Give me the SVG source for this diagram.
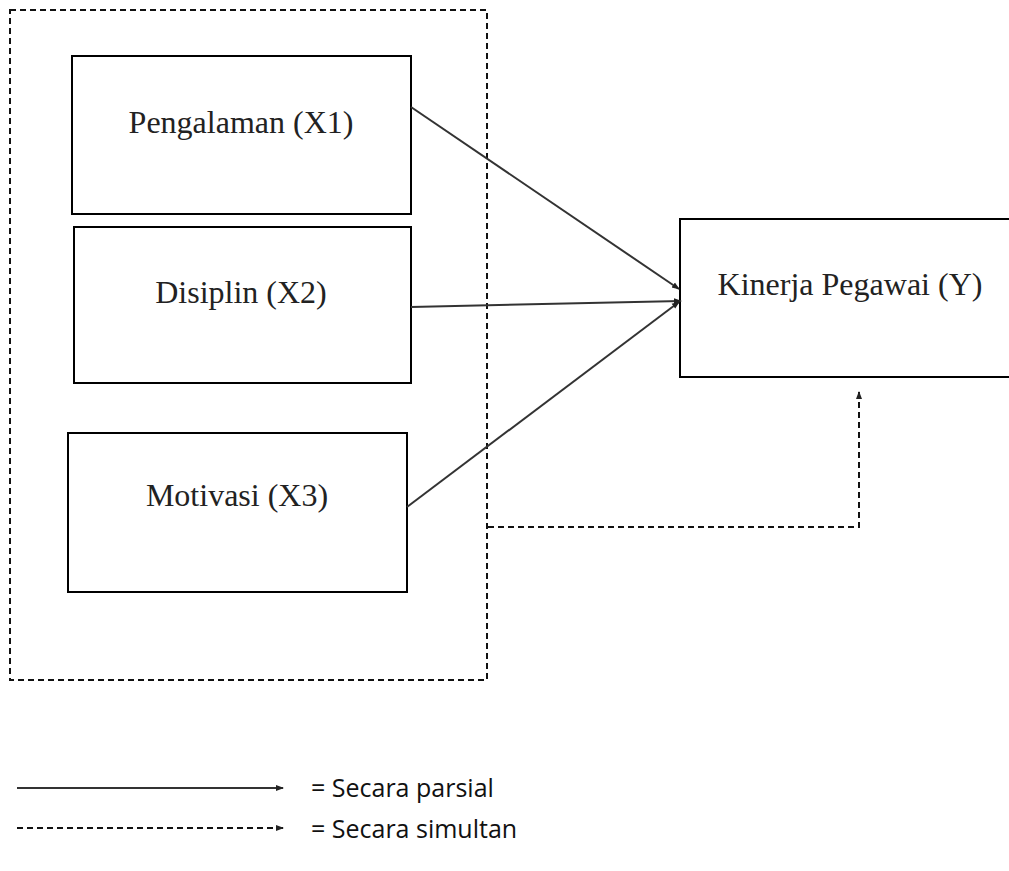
<svg xmlns="http://www.w3.org/2000/svg" width="1009" height="871" viewBox="0 0 1009 871">
<style>
.box{fill:#fff;stroke:#000;stroke-width:2}
.lbl{font-family:"Liberation Serif",serif;font-size:32px;fill:#222;text-anchor:middle}
.leg{font-family:"Open Sans","Liberation Sans",sans-serif;font-size:25px;fill:#111}
.solid{stroke:#333;stroke-width:2;fill:none}
.dash{stroke:#111;stroke-width:2;fill:none;stroke-dasharray:6,4}
</style>
<defs>
<marker id="ah" markerWidth="8" markerHeight="8" refX="7" refY="4" orient="auto" markerUnits="userSpaceOnUse">
<path d="M0,1 L8,4 L0,7 Z" fill="#222"/>
</marker>
</defs>
<rect width="1009" height="871" fill="#fff"/>
<rect x="10" y="10" width="477" height="670" class="dash"/>
<g id="x1"><rect x="72" y="56" width="339" height="158" class="box"/><text x="241" y="133" class="lbl">Pengalaman (X1)</text></g>
<g id="x2"><rect x="74" y="227" width="337" height="156" class="box"/><text x="241" y="303" class="lbl">Disiplin (X2)</text></g>
<g id="x3"><rect x="68" y="433" width="339" height="159" class="box"/><text x="237" y="506" class="lbl">Motivasi (X3)</text></g>
<g id="y"><rect x="680" y="219" width="340" height="158" class="box"/><text x="850" y="295" class="lbl">Kinerja Pegawai (Y)</text></g>
<g id="connectors">
<line x1="411" y1="107" x2="679" y2="289" class="solid" marker-end="url(#ah)"/>
<line x1="411" y1="307" x2="681" y2="301" class="solid" marker-end="url(#ah)"/>
<line x1="407" y1="507" x2="679" y2="302" class="solid" marker-end="url(#ah)"/>
<polyline points="488,527 859,527 859,392" class="dash" marker-end="url(#ah)"/>
</g>
<g id="legend">
<line x1="17" y1="788" x2="283" y2="788" class="solid" marker-end="url(#ah)"/>
<text x="311" y="797" class="leg">= Secara parsial</text>
<line x1="17" y1="828" x2="283" y2="828" class="dash" stroke-dasharray="5,4" marker-end="url(#ah)"/>
<text x="311" y="838" class="leg">= Secara simultan</text>
</g>
</svg>
